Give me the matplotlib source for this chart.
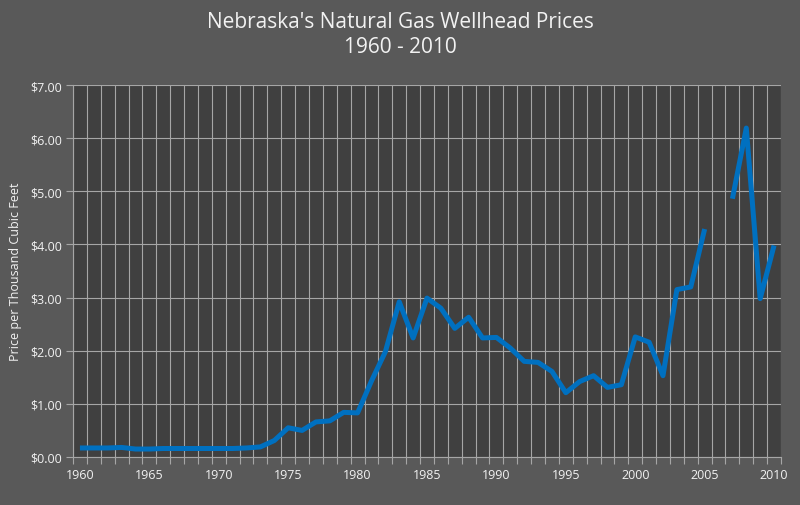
import numpy as np
import matplotlib
matplotlib.use("Agg")
import matplotlib.pyplot as plt
from matplotlib.ticker import FuncFormatter, MultipleLocator

# Datos (dolares por mil pies cubicos)
years = list(range(1960, 2011))
prices = [
    0.17, 0.17, 0.17, 0.18, 0.15, 0.15, 0.16, 0.16, 0.16, 0.16,
    0.16, 0.16, 0.17, 0.19, 0.31, 0.55, 0.50, 0.66, 0.68, 0.84,
    0.83, 1.43, 1.98, 2.92, 2.24, 2.99, 2.80, 2.42, 2.63, 2.24,
    2.25, 2.05, 1.80, 1.78, 1.61, 1.21, 1.42, 1.53, 1.31, 1.36,
    2.26, 2.16, 1.53, 3.15, 3.20, 4.29, np.nan, 4.86, 6.19, 2.98,
    3.98,
]
label_years = [1960, 1965, 1970, 1975, 1980, 1985, 1990, 1995, 2000, 2005, 2010]

bg = "#595959"
plot_bg = "#404040"
grid_col = "#a6a6a6"
text_col = "#f2f2f2"
font = ["Open Sans", "DejaVu Sans"]

fig = plt.figure(figsize=(8, 5.06), dpi=100, facecolor=bg)
ax = fig.add_axes([73 / 800, 1 - 458 / 506, (781 - 73) / 800, (458 - 86) / 506])
ax.set_facecolor(plot_bg)

x = np.arange(len(years))
ax.plot(x, prices, color="#0070c0", linewidth=3.6, solid_capstyle="butt", zorder=3)

ax.set_xlim(-0.5, len(years) - 0.5)
ax.set_ylim(0, 7)

# ejes: etiquetas cada 5 anos, lineas verticales entre categorias
ax.set_xticks([years.index(y) for y in label_years])
ax.set_xticklabels([str(y) for y in label_years])
ax.set_xticks(np.arange(-0.5, len(years)), minor=True)
ax.tick_params(axis="x", which="major", length=0, pad=8)
ax.tick_params(axis="x", which="minor", length=5, color=grid_col, width=0.8)
ax.yaxis.set_major_locator(MultipleLocator(1))
ax.yaxis.set_major_formatter(FuncFormatter(lambda v, p: "${:.2f}".format(v)))
ax.tick_params(axis="y", length=5, color=grid_col, width=0.8, pad=3)
for lab in ax.get_xticklabels() + ax.get_yticklabels():
    lab.set_color(text_col)
    lab.set_fontsize(9)
    lab.set_family(font)

ax.grid(True, which="minor", axis="x", color=grid_col, linewidth=0.8)
ax.grid(True, which="major", axis="y", color=grid_col, linewidth=0.8)
ax.set_axisbelow(True)

for side in ["top", "right"]:
    ax.spines[side].set_visible(False)
for side in ["left", "bottom"]:
    ax.spines[side].set_color(grid_col)
    ax.spines[side].set_linewidth(0.8)

ax.set_ylabel("Price per Thousand Cubic Feet", color=text_col, fontsize=9, family=font, labelpad=6)
fig.text(0.5, 0.977, "Nebraska's Natural Gas Wellhead Prices\n1960 - 2010", ha="center", va="top",
         color=text_col, fontsize=15, family=font, linespacing=1.3)

fig.savefig("out.png", dpi=100, facecolor=bg)
